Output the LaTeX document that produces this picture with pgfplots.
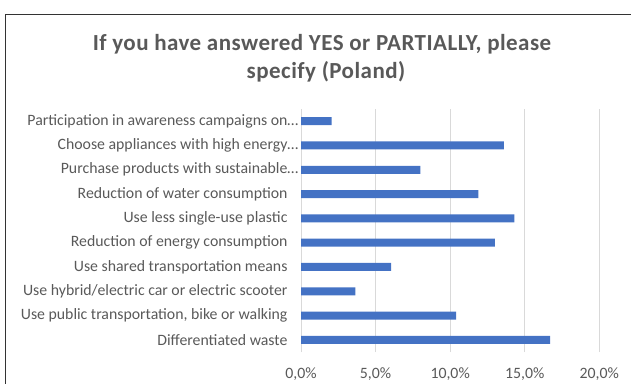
\documentclass[border=0pt]{standalone}
\usepackage{pgfplots}
\pgfplotsset{compat=1.18}
\usepackage{fontspec}
\setmainfont{Carlito}
\newfontfamily\titlefont[LetterSpace=2]{Carlito}
\definecolor{barc}{HTML}{4472C4}
\definecolor{txt}{HTML}{595959}
\definecolor{gridc}{HTML}{D9D9D9}
\begin{document}
\begin{tikzpicture}[x=1pt,y=1pt]
\useasboundingbox (0,0) rectangle (631,-383);
\draw[line width=1.5pt, black!80] (5.5,-400) -- (5.5,-14.5) -- (650,-14.5);
\node[font=\titlefont\fontsize{23}{26}\selectfont\bfseries, text=txt] at (322,-44) {If you have answered YES or PARTIALLY, please};
\node[font=\titlefont\fontsize{23}{26}\selectfont\bfseries, text=txt] at (326,-72) {specify (Poland)};
\begin{axis}[
  at={(301pt,-352pt)}, anchor=south west,
  scale only axis, width=298.3pt, height=243pt,
  xmin=0, xmax=20, ymin=-0.5, ymax=9.5,
  xbar, bar width=8pt,
  axis line style={draw=none},
  major tick length=0pt,
  xtick={0,5,10,15,20},
  xticklabels={{0,0\%},{5,0\%},{10,0\%},{15,0\%},{20,0\%}},
  xmajorgrids, grid style={gridc, line width=1pt},
  ytick={0,...,9},
  yticklabels={
    Differentiated waste,
    {Use public transportation, bike or walking},
    Use hybrid/electric car or electric scooter,
    Use shared transportation means,
    Reduction of energy consumption,
    Use less single-use plastic,
    Reduction of water consumption,
    Purchase products with sustainable\rlap{…},
    Choose appliances with high energy\rlap{…},
    Participation in awareness campaigns on\rlap{…}},
  ticklabel style={font=\fontsize{15.8}{18}\selectfont, text=txt},
  yticklabel style={xshift=-10pt},
  xticklabel style={yshift=-12pt},
]
\addplot[draw=none, fill=barc] coordinates {
  (16.7,0) (10.4,1) (3.65,2) (6.05,3) (13.0,4) (14.3,5) (11.9,6) (8.0,7) (13.6,8) (2.05,9)
};
\end{axis}
\end{tikzpicture}
\end{document}
